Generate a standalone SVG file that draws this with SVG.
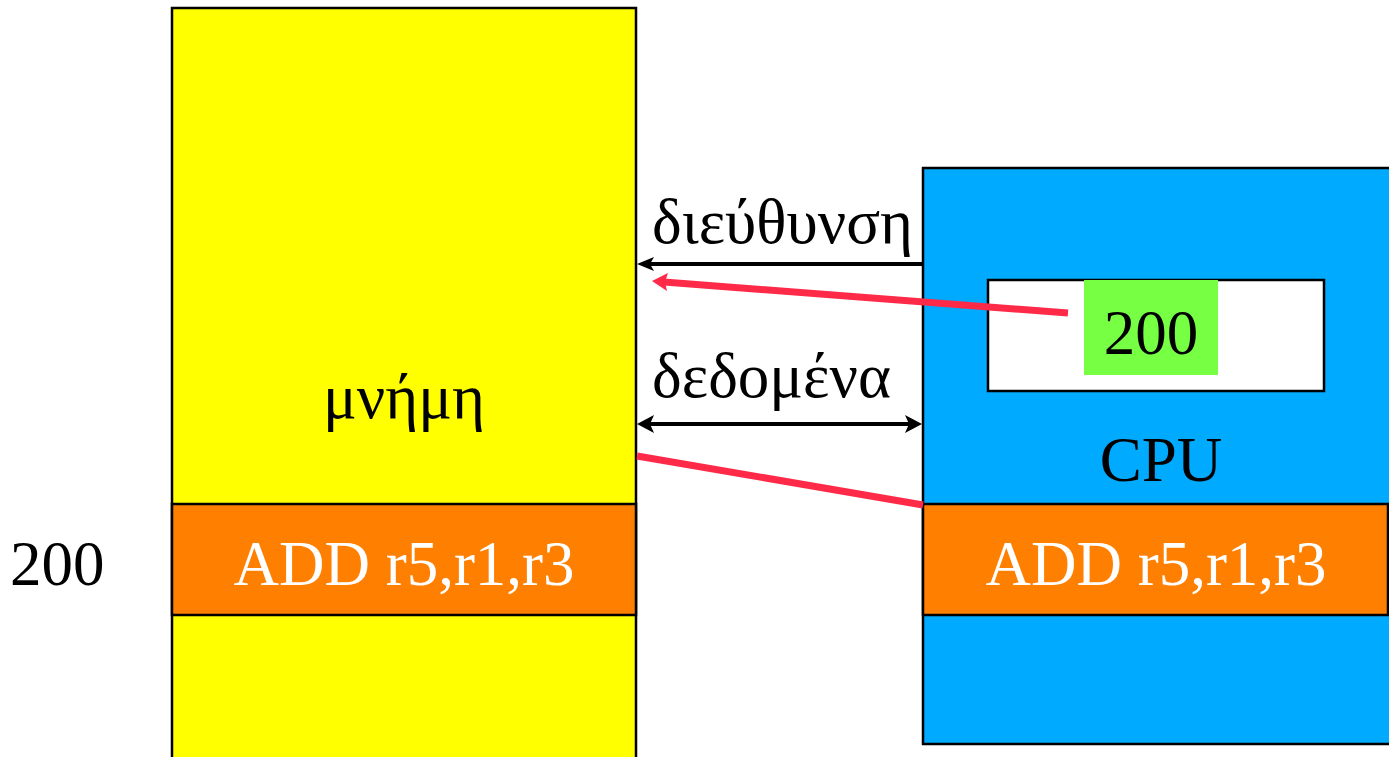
<svg xmlns="http://www.w3.org/2000/svg" width="1389" height="757" viewBox="0 0 1389 757">
<style>
  .t { font-family: "Liberation Serif", "Times New Roman", serif; font-size: 63px; fill: #000; }
  .w { fill: #fff; }
  .box { stroke: #000; stroke-width: 2.5; }
  .blk { stroke: #000; stroke-width: 4; fill: none; }
  .red { stroke: #FF2A48; stroke-width: 7; fill: none; }
</style>
<rect width="1389" height="757" fill="#fff"/>
<g id="memory">
  <rect class="box" x="172" y="8" width="464" height="760" fill="#FFFF00"/>
  <text class="t" x="404" y="418" text-anchor="middle">μνήμη</text>
</g>
<g id="memory-instr">
  <rect class="box" x="172" y="504" width="464" height="111" fill="#FF7F00"/>
  <text class="t w" x="404" y="585" text-anchor="middle">ADD r5,r1,r3</text>
</g>
<text id="addr-label" class="t" x="10" y="585">200</text>
<g id="cpu">
  <rect class="box" x="923" y="168" width="480" height="576" fill="#00AAFF"/>
  <text class="t" x="1161" y="481" text-anchor="middle">CPU</text>
</g>
<g id="register">
  <rect class="box" x="988" y="280" width="336" height="111" fill="#fff"/>
  <rect x="1084" y="280" width="134" height="95" fill="#77FF44"/>
  <text class="t" x="1151" y="354" text-anchor="middle">200</text>
</g>
<g id="cpu-instr">
  <rect class="box" x="923" y="504" width="465" height="111" fill="#FF7F00"/>
  <text class="t w" x="1156" y="585" text-anchor="middle">ADD r5,r1,r3</text>
</g>
<g id="connectors">
  <line class="blk" x1="922" y1="264" x2="645" y2="264"/>
  <polygon points="637,264 654,257 650,264 654,271" fill="#000"/>
  <text class="t" x="652" y="243">διεύθυνση</text>
  <line class="blk" x1="648" y1="424" x2="911" y2="424"/>
  <polygon points="637,424 654,415 650,424 654,433" fill="#000"/>
  <polygon points="922,424 905,415 909,424 905,433" fill="#000"/>
  <text class="t" x="652" y="397">δεδομένα</text>
  <line class="red" x1="1068" y1="313" x2="664" y2="282"/>
  <polygon points="652,281 668,273 665,282 667,291" fill="#FF2A48"/>
  <line class="red" x1="637" y1="456" x2="923" y2="505"/>
</g>
</svg>
